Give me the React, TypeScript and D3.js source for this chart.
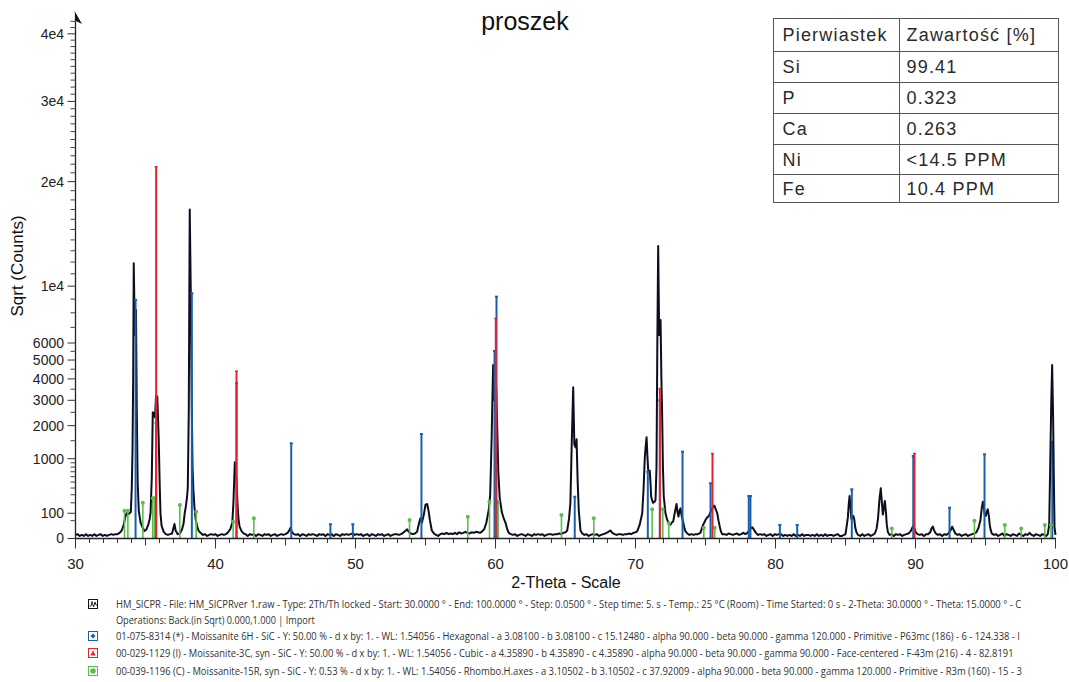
import React, { useLayoutEffect, useRef } from "react";
import * as d3 from "d3";

// Measured scan: [2-Theta (deg), counts]
const scan: [number, number][] = [
  [30.0,2],[30.15,3],[30.3,1],[30.45,2],[30.6,1],[30.75,3],[30.9,1],[31.05,2],[31.2,1],[31.35,3],[31.5,1],[31.65,2],[31.8,3],[31.95,1],[32.1,2],[32.25,1],[32.4,2],[32.55,3],[32.7,2],[32.85,3],[33.0,3],[33.15,5],[33.3,10],[33.45,30],[33.55,70],[33.65,100],[33.8,95],[33.95,110],[34.02,400],[34.07,1180],[34.12,4000],[34.16,11900],[34.24,6500],[34.32,8200],[34.38,2500],[34.44,500],[34.52,120],[34.65,40],[34.8,18],[34.93,9],[35.05,12],[35.2,30],[35.3,60],[35.36,100],[35.45,600],[35.52,2500],[35.6,2450],[35.68,2300],[35.75,3200],[35.84,3160],[35.9,2200],[35.95,1430],[36.02,400],[36.07,100],[36.15,25],[36.3,7],[36.45,3],[36.6,2],[36.75,3],[36.9,4],[37.0,18],[37.07,33],[37.15,10],[37.3,3],[37.45,4],[37.6,12],[37.72,35],[37.8,100],[37.88,160],[37.96,260],[38.02,400],[38.09,2500],[38.16,17000],[38.24,9000],[38.3,3000],[38.36,800],[38.42,370],[38.5,150],[38.58,60],[38.69,22],[38.8,9],[38.93,5],[39.1,2],[39.25,3],[39.4,1],[39.55,2],[39.7,3],[39.85,2],[40.0,3],[40.15,1],[40.3,2],[40.45,3],[40.6,2],[40.75,3],[40.9,6],[41.07,15],[41.2,40],[41.28,200],[41.38,912],[41.44,600],[41.5,570],[41.57,200],[41.64,60],[41.72,22],[41.85,9],[42.0,4],[42.15,3],[42.3,1],[42.45,3],[42.6,2],[42.75,3],[42.9,1],[43.05,3],[43.2,2],[43.35,1],[43.5,3],[43.65,2],[43.8,3],[43.95,1],[44.1,2],[44.25,3],[44.4,1],[44.55,2],[44.7,3],[44.85,2],[45.0,3],[45.15,5],[45.25,9],[45.36,18],[45.45,7],[45.6,3],[45.75,2],[45.9,3],[46.05,1],[46.2,3],[46.35,2],[46.5,1],[46.65,3],[46.8,2],[46.95,3],[47.1,2],[47.25,1],[47.4,3],[47.55,2],[47.7,3],[47.85,1],[48.0,3],[48.15,2],[48.3,3],[48.45,1],[48.6,3],[48.75,2],[48.9,1],[49.05,3],[49.2,2],[49.35,3],[49.5,2],[49.65,3],[49.8,4],[49.95,2],[50.1,3],[50.25,2],[50.4,3],[50.55,1],[50.7,2],[50.85,3],[51.0,1],[51.15,3],[51.3,2],[51.45,1],[51.6,3],[51.75,2],[51.9,3],[52.05,1],[52.2,2],[52.35,3],[52.5,1],[52.65,2],[52.8,3],[52.95,3],[53.1,2],[53.25,3],[53.4,5],[53.55,9],[53.69,13],[53.8,7],[53.95,4],[54.1,3],[54.25,4],[54.4,7],[54.55,40],[54.64,64],[54.75,40],[54.88,90],[55.0,180],[55.12,187],[55.22,120],[55.32,50],[55.45,10],[55.6,4],[55.75,2],[55.9,1],[56.05,3],[56.2,4],[56.35,3],[56.5,5],[56.65,3],[56.8,4],[56.95,3],[57.1,5],[57.25,3],[57.4,6],[57.55,4],[57.7,5],[57.85,7],[58.0,5],[58.15,4],[58.3,6],[58.45,5],[58.6,7],[58.75,6],[58.9,5],[59.05,8],[59.2,14],[59.35,40],[59.52,130],[59.62,300],[59.72,1500],[59.83,4730],[59.9,3000],[59.97,3600],[60.05,3620],[60.12,2000],[60.2,700],[60.3,260],[60.45,110],[60.6,60],[60.71,40],[60.85,12],[60.95,5],[61.1,3],[61.25,2],[61.4,3],[61.55,1],[61.7,2],[61.85,3],[62.0,2],[62.15,1],[62.3,3],[62.45,2],[62.6,1],[62.75,3],[62.9,2],[63.05,3],[63.2,2],[63.35,3],[63.5,1],[63.65,2],[63.8,3],[63.95,3],[64.1,2],[64.25,3],[64.4,3],[64.55,4],[64.7,3],[64.85,5],[65.0,6],[65.12,10],[65.25,60],[65.35,200],[65.45,1500],[65.55,3590],[65.63,1400],[65.72,1300],[65.79,1546],[65.87,500],[65.95,120],[66.07,10],[66.2,4],[66.35,2],[66.5,3],[66.65,1],[66.8,2],[66.95,3],[67.1,2],[67.25,3],[67.4,1],[67.55,2],[67.7,3],[67.85,4],[68.0,6],[68.2,10],[68.35,5],[68.5,3],[68.65,2],[68.8,3],[68.95,3],[69.1,2],[69.25,3],[69.4,3],[69.55,4],[69.7,3],[69.85,5],[70.0,6],[70.12,8],[70.3,30],[70.48,100],[70.58,400],[70.66,1000],[70.72,1300],[70.79,1609],[70.86,1000],[70.91,730],[70.97,700],[71.02,722],[71.08,450],[71.12,274],[71.24,200],[71.35,210],[71.43,233],[71.5,800],[71.56,6000],[71.62,13440],[71.69,6500],[71.75,7200],[71.79,7500],[71.85,4000],[71.9,2500],[71.96,800],[72.02,274],[72.14,100],[72.26,55],[72.4,35],[72.5,30],[72.6,40],[72.69,45],[72.8,100],[72.93,187],[73.0,110],[73.07,75],[73.14,120],[73.21,143],[73.3,80],[73.41,40],[73.5,16],[73.57,8],[73.7,4],[73.85,2],[74.0,3],[74.15,2],[74.3,3],[74.45,3],[74.64,5],[74.8,25],[75.0,54],[75.12,70],[75.24,80],[75.36,110],[75.48,140],[75.56,165],[75.64,169],[75.74,130],[75.84,100],[75.93,50],[76.02,22],[76.1,8],[76.19,3],[76.35,3],[76.5,2],[76.65,4],[76.8,3],[76.95,2],[77.1,3],[77.25,4],[77.4,2],[77.55,3],[77.7,5],[77.85,3],[78.0,5],[78.12,10],[78.22,16],[78.33,20],[78.45,13],[78.6,5],[78.75,2],[78.9,3],[79.05,2],[79.2,3],[79.35,1],[79.5,2],[79.65,3],[79.8,1],[79.95,3],[80.1,2],[80.25,3],[80.4,3],[80.55,1],[80.7,2],[80.85,1],[81.0,2],[81.15,1],[81.3,3],[81.45,1],[81.6,2],[81.75,1],[81.9,3],[82.05,1],[82.2,2],[82.35,2],[82.5,1],[82.65,2],[82.8,1],[82.95,3],[83.1,1],[83.25,2],[83.4,1],[83.55,3],[83.7,1],[83.85,2],[84.0,2],[84.15,1],[84.3,2],[84.45,3],[84.6,1],[84.75,1],[84.9,2],[85.0,3],[85.1,30],[85.17,70],[85.23,180],[85.29,284],[85.36,150],[85.42,60],[85.5,75],[85.56,80],[85.62,60],[85.7,18],[85.78,6],[85.9,2],[86.05,1],[86.2,3],[86.35,1],[86.5,2],[86.65,3],[86.8,1],[86.95,2],[87.1,4],[87.22,15],[87.32,60],[87.43,250],[87.52,396],[87.6,200],[87.67,90],[87.74,150],[87.81,221],[87.88,120],[87.95,30],[88.03,6],[88.15,2],[88.3,3],[88.45,1],[88.6,3],[88.75,2],[88.9,3],[89.05,1],[89.2,2],[89.35,3],[89.5,4],[89.65,8],[89.77,18],[89.84,25],[89.92,16],[90.02,6],[90.15,3],[90.3,2],[90.45,3],[90.6,1],[90.75,3],[90.9,3],[91.05,6],[91.15,16],[91.24,22],[91.33,10],[91.45,4],[91.6,2],[91.75,3],[91.9,1],[92.05,3],[92.2,2],[92.35,4],[92.5,10],[92.62,22],[92.72,12],[92.85,4],[93.0,2],[93.15,3],[93.3,1],[93.45,2],[93.6,3],[93.75,1],[93.9,2],[94.05,3],[94.2,4],[94.35,6],[94.5,18],[94.64,54],[94.73,140],[94.81,213],[94.88,160],[94.94,90],[95.02,80],[95.09,110],[95.16,134],[95.24,80],[95.3,30],[95.36,13],[95.45,4],[95.6,2],[95.75,3],[95.9,1],[96.05,2],[96.2,4],[96.35,1],[96.5,3],[96.65,2],[96.8,1],[96.95,3],[97.1,2],[97.25,1],[97.4,4],[97.55,2],[97.7,1],[97.85,3],[98.0,2],[98.15,5],[98.3,2],[98.45,1],[98.6,3],[98.75,2],[98.9,1],[99.05,3],[99.2,2],[99.35,1],[99.45,3],[99.55,30],[99.64,1230],[99.7,3000],[99.76,4730],[99.83,2330],[99.88,600],[99.93,20],[100.0,2],
];

// Reference patterns: [2-Theta, counts]
const moissanite6H: [number, number][] = [
  [34.29,8935],[35.76,2100],[38.31,9445],[41.5,3785],[45.41,1424],[48.21,32],[49.81,32],[54.71,1715],
  [59.93,5523],[60.07,9185],[65.66,274],[70.88,700],[71.74,3000],[73.36,1184],[75.36,479],[78.09,284],
  [78.21,284],[80.31,29],[81.55,29],[85.45,380],[89.84,1069],[92.43,149],[94.93,1113],
];
// 6H line lying beneath the last scan peak
const moissanite6HHidden: [number, number][] = [[99.77,1500]];
const moissanite3C: [number, number][] = [
  [35.76,21720],[41.5,4407],[60.02,7617],[71.74,3544],[75.5,1140],[89.93,1140],
];
const moissanite15R: [number, number][] = [
  [33.5,121],[33.74,121],[34.81,201],[35.52,254],[35.64,254],[37.45,176],[38.62,113],[41.26,44],
  [42.74,64],[53.86,54],[58.02,75],[59.57,213],[60.19,213],[64.71,87],[67.02,64],[71.19,134],
  [71.95,134],[72.38,36],[74.88,18],[75.66,18],[88.31,16],[94.21,50],[96.38,29],[97.55,16],
  [99.24,29],[99.68,29],
];

const xTicks = [30, 40, 50, 60, 70, 80, 90, 100];
const yTickValues = [0, 100, 1000, 2000, 3000, 4000, 5000, 6000, 10000, 20000, 30000, 40000];
const yTickLabels = ["0", "100", "1000", "2000", "3000", "4000", "5000", "6000", "1e4", "2e4", "3e4", "4e4"];

const tableHeader = ["Pierwiastek", "Zawartość [%]"];
const tableElements = ["Si", "P", "Ca", "Ni", "Fe"];
const tableContents = ["99.41", "0.323", "0.263", "<14.5 PPM", "10.4 PPM"];

const legendLines = [
  "HM_SICPR - File: HM_SICPRver 1.raw - Type: 2Th/Th locked - Start: 30.0000 ° - End: 100.0000 ° - Step: 0.0500 ° - Step time: 5. s - Temp.: 25 °C (Room) - Time Started: 0 s - 2-Theta: 30.0000 ° - Theta: 15.0000 ° - C",
  "Operations: Back.(in Sqrt) 0.000,1.000 | Import",
  "01-075-8314 (*) - Moissanite 6H - SiC - Y: 50.00 % - d x by: 1. - WL: 1.54056 - Hexagonal - a 3.08100 - b 3.08100 - c 15.12480 - alpha 90.000 - beta 90.000 - gamma 120.000 - Primitive - P63mc (186) - 6 - 124.338 - I",
  "00-029-1129 (I) - Moissanite-3C, syn - SiC - Y: 50.00 % - d x by: 1. - WL: 1.54056 - Cubic - a 4.35890 - b 4.35890 - c 4.35890 - alpha 90.000 - beta 90.000 - gamma 90.000 - Face-centered - F-43m (216) - 4 - 82.8191",
  "00-039-1196 (C) - Moissanite-15R, syn - SiC - Y: 0.53 % - d x by: 1. - WL: 1.54056 - Rhombo.H.axes - a 3.10502 - b 3.10502 - c 37.92009 - alpha 90.000 - beta 90.000 - gamma 120.000 - Primitive - R3m (160) - 15 - 3",
];
const legendY = [604, 620, 636, 653, 671];
const legendWidths = [906, 199, 904, 897, 906];

const BLUE = "#1a5fae";
const RED = "#e8232b";
const GREEN = "#5cbd4c";
const INK = "#0d0d20";
const FONT = "'Liberation Sans', Arial, sans-serif";
const LEGEND_X = 116;

function LegendText({ text, y, width }: { text: string; y: number; width: number }) {
  const ref = useRef<SVGTextElement>(null);
  // squeeze each legend line horizontally to its line width
  useLayoutEffect(() => {
    const el = ref.current;
    if (!el) return;
    const natural = el.getComputedTextLength();
    const sx = natural > 0 ? width / natural : 1;
    el.setAttribute("transform", `translate(${LEGEND_X},${y}) scale(${sx},1)`);
    el.style.visibility = "visible";
  }, [text, y, width]);
  return (
    <text ref={ref} x={0} y={0} dy="0.35em" fontFamily="'Open Sans', sans-serif" fontSize={11}
      fill="#333" style={{ visibility: "hidden" }} transform={`translate(${LEGEND_X},${y}) scale(0.8,1)`}>
      {text}
    </text>
  );
}

export default function App() {
  const x = d3.scaleLinear().domain([30, 100]).range([75.5, 1055.5]);
  const y = d3.scaleSqrt().domain([0, 43200]).range([538.5, 14]);

  const line = d3
    .line<[number, number]>()
    .x((d) => x(d[0]))
    .y((d) => y(d[1]));

  const minorX = d3.range(30, 101, 1);
  const minorY = [
    50, ...d3.range(200, 1000, 100), 1500, 2500, 3500, 4500, 5500,
    7000, 8000, 9000, ...d3.range(11000, 20000, 1000), ...d3.range(21000, 30000, 1000),
    ...d3.range(31000, 40000, 1000), 41000, 42000,
  ];

  const sticks = (data: [number, number][], color: string, w: number, marker: string) =>
    data.map(([t, c], i) => (
      <g key={i}>
        <line x1={x(t)} x2={x(t)} y1={y(0)} y2={y(c)} stroke={color} strokeWidth={w} />
        {marker === "circle" && <circle cx={x(t)} cy={y(c)} r={2} fill={color} />}
        {marker === "dot" && <rect x={x(t) - 1.5} y={y(c) - 1} width={3} height={2} fill={color} />}
        {marker === "tick" && <rect x={x(t) - 1.5} y={y(c) - 0.5} width={3} height={1.5} fill={color} />}
      </g>
    ));

  // Table geometry
  const tx0 = 773.5, tx1 = 1058.5, tcol = 899.5;
  const rowLines = [18.5, 51.5, 82.5, 113.5, 144.5, 174.5, 202.5];

  return (
    <svg width={1069} height={682} style={{ position: "absolute", left: 0, top: 0, background: "#fff" }}>
      <rect width={1069} height={682} fill="#fff" />

      {/* Title */}
      <text x={525} y={30} textAnchor="middle" fontFamily={FONT} fontSize={25} fill="#111">proszek</text>

      {/* Scan */}
      {sticks(moissanite6HHidden, BLUE, 2, "none")}
      <path d={line(scan) || ""} fill="none" stroke={INK} strokeWidth={2} strokeLinejoin="round" />

      {/* Reference sticks */}
      {sticks(moissanite15R, GREEN, 1.6, "circle")}
      {sticks(moissanite6H, BLUE, 2, "dot")}
      {sticks(moissanite3C, RED, 2, "tick")}

      {/* X axis */}
      <line x1={75.5} x2={1056} y1={538.5} y2={538.5} stroke="#222" strokeWidth={1.3} />
      {minorX.map((t) => {
        const len = t % 10 === 0 ? 10 : t % 5 === 0 ? 7 : 4.5;
        return <line key={t} x1={x(t)} x2={x(t)} y1={538.5} y2={538.5 + len} stroke="#333" strokeWidth={1} />;
      })}
      {xTicks.map((t) => (
        <text key={t} x={x(t)} y={569} textAnchor="middle" fontFamily={FONT} fontSize={15} fill="#222">{t}</text>
      ))}
      <text x={566} y={588} textAnchor="middle" fontFamily={FONT} fontSize={16} fill="#111">2-Theta - Scale</text>

      {/* Y axis */}
      <line x1={75.5} x2={75.5} y1={538.5} y2={14} stroke="#222" strokeWidth={1.3} />
      <polygon points="74.5,11 82,24 76,21" fill="#111" />
      {minorY.map((v) => (
        <line key={v} x1={70.5} x2={75.5} y1={y(v)} y2={y(v)} stroke="#444" strokeWidth={1} />
      ))}
      {yTickValues.map((v, i) => (
        <g key={v}>
          <line x1={67.5} x2={75.5} y1={y(v)} y2={y(v)} stroke="#333" strokeWidth={1} />
          <text x={64} y={y(v)} dy="0.35em" textAnchor="end" fontFamily={FONT} fontSize={14} fill="#222">{yTickLabels[i]}</text>
        </g>
      ))}
      <text transform="translate(23,266) rotate(-90)" textAnchor="middle" fontFamily={FONT} fontSize={17} fill="#111">Sqrt (Counts)</text>

      {/* Composition table */}
      <g fontFamily={FONT} fontSize={18} fill="#2a2a2a" letterSpacing={1.2}>
        <rect x={tx0} y={rowLines[0]} width={tx1 - tx0} height={rowLines[6] - rowLines[0]} fill="#fff" stroke="#555" strokeWidth={1} />
        {rowLines.slice(1, 6).map((ry) => (
          <line key={ry} x1={tx0} x2={tx1} y1={ry} y2={ry} stroke="#555" strokeWidth={1} />
        ))}
        <line x1={tcol} x2={tcol} y1={rowLines[0]} y2={rowLines[6]} stroke="#555" strokeWidth={1} />
        <text x={tx0 + 9} y={(rowLines[0] + rowLines[1]) / 2} dy="0.36em">{tableHeader[0]}</text>
        <text x={tcol + 7} y={(rowLines[0] + rowLines[1]) / 2} dy="0.36em">{tableHeader[1]}</text>
        {tableElements.map((el, i) => (
          <g key={el}>
            <text x={tx0 + 9} y={(rowLines[i + 1] + rowLines[i + 2]) / 2} dy="0.36em">{el}</text>
            <text x={tcol + 7} y={(rowLines[i + 1] + rowLines[i + 2]) / 2} dy="0.36em">{tableContents[i]}</text>
          </g>
        ))}
      </g>

      {/* Legend */}
      <g>
        <rect x={88.5} y={599.5} width={9} height={9} fill="#fff" stroke="#111" strokeWidth={1} />
        <polyline points="89.5,606 91,606 92,601.5 93.5,607 95,602 96,605 97,605" fill="none" stroke="#111" strokeWidth={0.9} />
        <rect x={88.5} y={631.5} width={9} height={9} fill="#fff" stroke={BLUE} strokeWidth={1} />
        <polygon points="93,633.5 95.5,636 93,638.5 90.5,636" fill={BLUE} />
        <rect x={88.5} y={648.5} width={9} height={9} fill="#fff" stroke={RED} strokeWidth={1} />
        <polygon points="93,650.5 95.8,655.5 90.2,655.5" fill={RED} />
        <rect x={88.5} y={666.5} width={9} height={9} fill="#fff" stroke={GREEN} strokeWidth={1} />
        <circle cx={93} cy={671} r={2.8} fill={GREEN} />
        {legendLines.map((s, i) => (
          <LegendText key={i} text={s} y={legendY[i]} width={legendWidths[i]} />
        ))}
      </g>
    </svg>
  );
}
